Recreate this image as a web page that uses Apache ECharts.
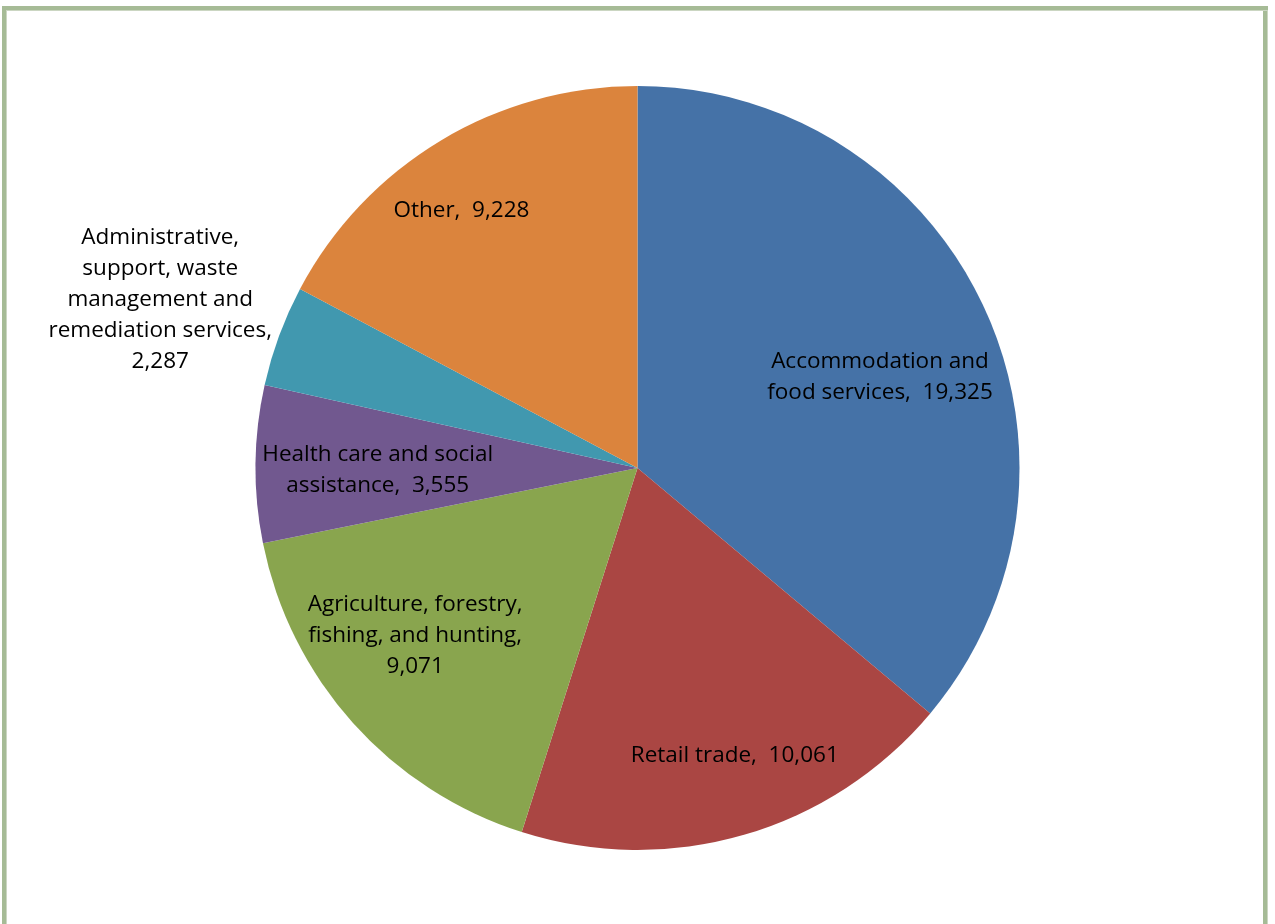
<!DOCTYPE html>
<html>
<head>
<meta charset="utf-8">
<script src="https://cdn.jsdelivr.net/npm/echarts@6/dist/echarts.min.js"></script>
<style>
html,body{margin:0;padding:0;background:#fff;overflow:hidden;}
#frame{position:absolute;left:2px;top:6px;width:1266px;height:1000px;border-top:4px solid #A6BB96;border-left:4px solid #A6BB96;border-right:5px solid #A6BB96;box-sizing:border-box;}
#inner{position:absolute;left:6px;top:10px;width:1262px;height:1000px;border-top:1px solid #CBD6C2;border-left:1px solid #CBD6C2;border-right:1px solid #CBD6C2;box-sizing:border-box;}
#chart{position:absolute;left:0;top:0;width:1275px;height:924px;}
</style>
</head>
<body>
<div id="chart"></div>
<div id="frame"></div>
<div id="inner"></div>
<script>
var categories = [
  "Accommodation and\nfood services",
  "Retail trade",
  "Agriculture, forestry,\nfishing, and hunting",
  "Health care and social\nassistance",
  "Administrative,\nsupport, waste\nmanagement and\nremediation services",
  "Other"
];
var values = [19325, 10061, 9071, 3555, 2287, 9228];
var separators = [",  ", ",  ", ",\n", ",  ", ",\n", ",  "];
var colors = ["#4572A7", "#AA4643", "#89A54E", "#71588F", "#4198AF", "#DB843D"];
// label anchor: [angle clockwise from 12 o'clock in degrees, fraction of radius]
var labelAnchors = [[69, 0.68], [161.2, 0.79], [233.4, 0.725], [270, 0.68], [289.7, 1.327], [325.8, 0.82]];

var CX = 637.5, CY = 468, R = 382;

var chart = echarts.init(document.getElementById('chart'));
chart.setOption({
  animation: false,
  backgroundColor: '#fff',
  series: [{
    type: 'pie',
    center: [CX, CY],
    radius: [0, R],
    startAngle: 90,
    clockwise: true,
    data: categories.map(function (c, i) {
      return { name: c, value: values[i], itemStyle: { color: colors[i] } };
    }),
    itemStyle: { borderWidth: 0 },
    emphasis: { disabled: true },
    label: {
      show: true,
      position: 'inside',
      color: '#000',
      fontFamily: 'Open Sans',
      fontSize: 22.5,
      lineHeight: 31,
      align: 'center',
      formatter: function (p) {
        return p.name + separators[p.dataIndex] + p.value.toLocaleString('en-US');
      }
    },
    labelLine: { show: false },
    labelLayout: function (p) {
      var a = labelAnchors[p.dataIndex];
      var rad = a[0] * Math.PI / 180;
      return {
        x: CX + a[1] * R * Math.sin(rad),
        y: CY - a[1] * R * Math.cos(rad) + 2,
        align: 'center',
        verticalAlign: 'middle'
      };
    }
  }]
});
</script>
</body>
</html>
